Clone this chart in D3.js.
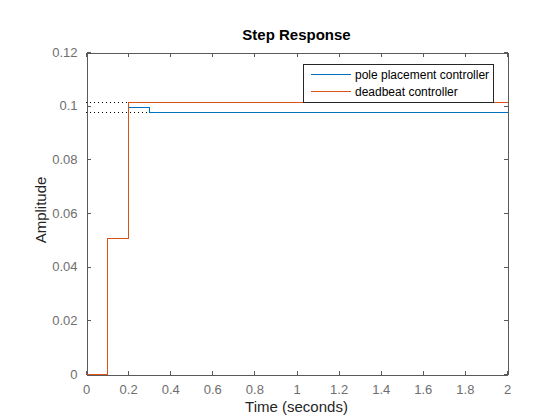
<!DOCTYPE html>
<html><head><meta charset="utf-8">
<script src="https://cdn.jsdelivr.net/npm/d3@7"></script>
<style>body{margin:0;background:#fff}svg{display:block}</style>
</head><body>
<script>
// Data
const xTicks = [0,0.2,0.4,0.6,0.8,1,1.2,1.4,1.6,1.8,2];
const yTicks = [0,0.02,0.04,0.06,0.08,0.1,0.12];
const seriesNames = ["pole placement controller","deadbeat controller"];
const stepTimes = [0,0.1,0.2,0.3,2];
const poleValues = [0,0.0506,0.0994,0.0976,0.0976];
const deadbeatValues = [0,0.0506,0.1014,0.1014,0.1014];
const steadyStates = [0.1014,0.0976];
const steadyEnds = [0.2,0.3];
const colors = ["#0072BD","#D95319"];

const W=560,H=420, L=86, R=507, T=52, B=374;
const svg=d3.select("body").append("svg").attr("width",W).attr("height",H);
const x=d3.scaleLinear().domain([0,2]).range([L,R]);
const y=d3.scaleLinear().domain([0,0.12]).range([B,T]);
const font="'Liberation Sans', Arial, sans-serif";
const snap=v=>Math.round(v)+0.5;

// axes (drawn first so data lines sit on top)
const ax=svg.append("g").attr("font-family",font);
const gx=ax.append("g").attr("transform",`translate(0,${B+0.5})`)
  .call(d3.axisBottom(x).tickValues(xTicks).tickSizeInner(-4).tickSizeOuter(0).tickPadding(10).tickFormat(d3.format("~g")));
const gxt=ax.append("g").attr("transform",`translate(0,${T+0.5})`)
  .call(d3.axisTop(x).tickValues(xTicks).tickSizeInner(-4).tickSizeOuter(0).tickFormat(""));
const gy=ax.append("g").attr("transform",`translate(${L+0.5},0)`)
  .call(d3.axisLeft(y).tickValues(yTicks).tickSizeInner(-4).tickSizeOuter(0).tickPadding(9).tickFormat(d3.format("~g")));
const gyr=ax.append("g").attr("transform",`translate(${R+0.5},0)`)
  .call(d3.axisRight(y).tickValues(yTicks).tickSizeInner(-4).tickSizeOuter(0).tickFormat(""));
[gx,gxt,gy,gyr].forEach(g=>{
  g.selectAll("path,line").attr("stroke","#5a5a5a").attr("stroke-width",1).attr("shape-rendering","crispEdges");
  g.selectAll("text").attr("fill","#6e6e6e").attr("font-size",13).attr("font-family",font);
});

// dotted steady-state lines
steadyStates.forEach((v,i)=>{
  svg.append("line").attr("x1",x(0)).attr("x2",x(steadyEnds[i]))
    .attr("y1",snap(y(v))).attr("y2",snap(y(v)))
    .attr("stroke","#000").attr("stroke-width",1).attr("stroke-dasharray","1,3")
    .attr("shape-rendering","crispEdges");
});

const line=d3.line().x(d=>snap(x(d[0]))).y(d=>snap(y(d[1]))).curve(d3.curveStepAfter);
[poleValues,deadbeatValues].forEach((vals,i)=>{
  svg.append("path").datum(stepTimes.map((t,j)=>[t,vals[j]]))
    .attr("d",line).attr("fill","none").attr("stroke",colors[i]).attr("stroke-width",1)
    .attr("shape-rendering","crispEdges");
});

// legend
const lg=svg.append("g");
lg.append("rect").attr("x",303.5).attr("y",64.5).attr("width",190).attr("height",38)
  .attr("fill","#fff").attr("stroke","#262626").attr("stroke-width",1).attr("shape-rendering","crispEdges");
seriesNames.forEach((n,i)=>{
  const yy=74.5+i*17;
  lg.append("line").attr("x1",311).attr("x2",351).attr("y1",yy).attr("y2",yy)
    .attr("stroke",colors[i]).attr("stroke-width",1).attr("shape-rendering","crispEdges");
  lg.append("text").attr("x",355).attr("y",yy+4).text(n)
    .attr("font-family",font).attr("font-size",12).attr("fill","#000");
});

svg.append("text").attr("x",(L+R)/2).attr("y",40).attr("text-anchor","middle")
  .attr("font-family",font).attr("font-size",15).attr("font-weight","bold").attr("fill","#000").text("Step Response");
svg.append("text").attr("x",(L+R)/2).attr("y",412).attr("text-anchor","middle")
  .attr("font-family",font).attr("font-size",15).attr("fill","#262626").text("Time (seconds)");
svg.append("text").attr("transform",`translate(46,210) rotate(-90)`).attr("text-anchor","middle")
  .attr("font-family",font).attr("font-size",15).attr("fill","#262626").text("Amplitude");
</script>
</body></html>
